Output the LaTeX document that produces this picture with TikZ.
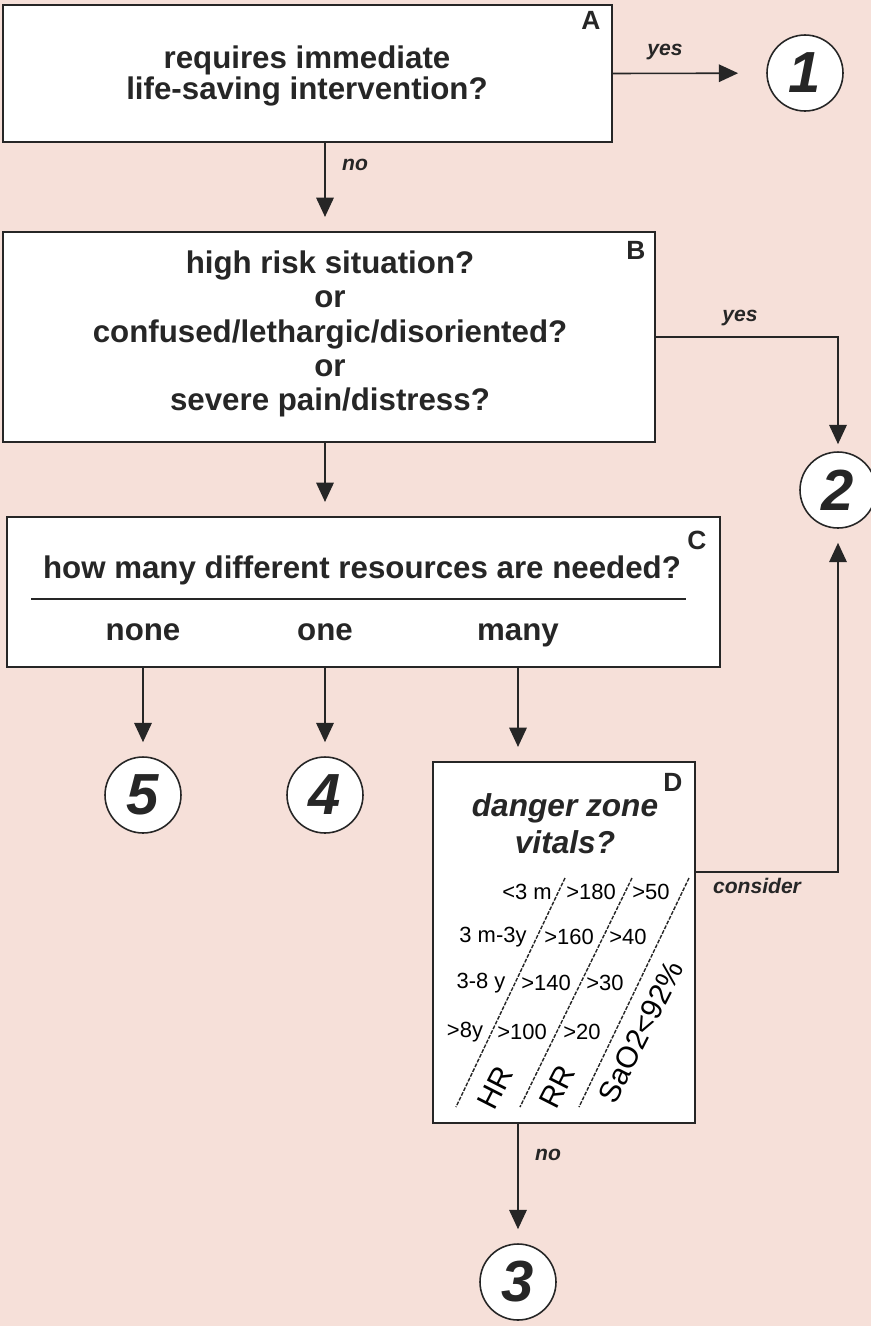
\documentclass[tikz,border=0pt]{standalone}
\usepackage{fontspec}
\setmainfont{Liberation Sans}
\usetikzlibrary{arrows.meta}
\definecolor{bgpink}{RGB}{246,224,217}
\definecolor{inkgray}{RGB}{38,38,38}

\begin{document}
\begin{tikzpicture}[x=0.02cm,y=-0.02cm,
        box/.style={draw=inkgray,line width=1.2pt,fill=white,inner sep=0pt},
        qtext/.style={font=\fontsize{17.8}{19.5}\selectfont\bfseries,align=center,text=inkgray},
        corner/.style={font=\fontsize{15}{15}\selectfont\bfseries,text=inkgray},
        endcirc/.style={circle,draw=inkgray,line width=0.9pt,fill=white,minimum size=1.52cm,inner sep=0pt,
            font=\fontsize{33}{33}\selectfont\bfseries\itshape,text=inkgray},
        arr/.style={-{Triangle[width=10pt,length=11pt]},draw=inkgray,line width=0.9pt,shorten >=8pt},
        lbl/.style={font=\fontsize{12}{12}\selectfont\bfseries\itshape,text=inkgray},
        vit/.style={font=\fontsize{12.5}{12.5}\selectfont,text=black},
        axis/.style={font=\fontsize{17}{17}\selectfont,text=black,rotate=63},
        diag/.style={draw=inkgray,dash pattern=on 2.2pt off 0.8pt,line width=0.8pt}]
        % Background
        \fill[bgpink] (0,0) rectangle (871,1326);
        \useasboundingbox (0,0) rectangle (871,1326);

        % Boxes
        \node[box,minimum width=12.18cm,minimum height=2.74cm] (A) at (307.5,73.5) {};
        \node[qtext,font=\fontsize{17.8}{16.5}\selectfont\bfseries] at (307,76) {requires immediate\\life-saving intervention?};
        \node[box,minimum width=13.04cm,minimum height=4.2cm] (B) at (329,337) {};
        \node[qtext] at (330,334) {high risk situation?\\or\\confused/lethargic/disoriented?\\or\\severe pain/distress?};
        \node[box,minimum width=14.26cm,minimum height=3.0cm] (C) at (363.5,592) {};
        \node[qtext] (Ctitle) at (362,570) {how many different resources are needed?};
        \draw[inkgray,line width=1pt] (31,599) -- (686,599);
        \node[qtext,anchor=base] (none) at (143,640) {none};
        \node[qtext,anchor=base] (one) at (325,640) {one};
        \node[qtext,anchor=base] (many) at (518,640) {many};
        \node[box,minimum width=5.24cm,minimum height=7.22cm] (D) at (564,942.5) {};
        \node[qtext,font=\fontsize{18}{21}\selectfont\bfseries\itshape] at (565,824) {danger zone\\vitals?};

        % Corner letters
        \node[corner] at (591,20) {A};
        \node[corner] at (636,250) {B};
        \node[corner] at (697,540) {C};
        \node[corner] at (673,782) {D};

        % End circles
        \node[endcirc] (c1) at (805,73) {1};
        \node[endcirc] (c2) at (838,490) {2};
        \node[endcirc] (c3) at (518,1282) {3};
        \node[endcirc] (c4) at (325,795) {4};
        \node[endcirc] (c5) at (143,795) {5};

        % Vitals table
        \coordinate (P) at (565,878);
        \coordinate (Q) at (456,1107);
        \coordinate (R) at (632,878);
        \coordinate (S) at (520,1107);
        \coordinate (T) at (689,878);
        \coordinate (U) at (579,1107);
        \draw[diag] (P) -- (Q);
        \draw[diag] (R) -- (S);
        \draw[diag] (T) -- (U);
        \node[vit] at (527,892) {<3 m};
        \node[vit] at (591,892) {>180};
        \node[vit] at (651,892) {>50};
        \node[vit] at (493,937) {3 m-3y};
        \node[vit] at (569,937) {>160};
        \node[vit] at (628,937) {>40};
        \node[vit] at (481,983) {3-8 y};
        \node[vit] at (546,983) {>140};
        \node[vit] at (605,983) {>30};
        \node[vit] at (465,1032) {>8y};
        \node[vit] at (522,1032) {>100};
        \node[vit] at (582,1032) {>20};
        \node[axis] at (495,1088) {HR};
        \node[axis] at (557,1087) {RR};
        \node[axis] at (641,1032) {SaO2<92\%};

        % Connectors
        \coordinate (dcon) at (695,872);
        \draw[arr,shorten >=16pt] (A.east) -- (c1);
        \node[lbl] at (665,52) {yes};
        \draw[arr] (A.south -| one) -- (B.north -| one);
        \node[lbl] at (355,165) {no};
        \draw[arr,shorten >=4pt] (B.east) -| (c2);
        \node[lbl] at (740,318) {yes};
        \draw[arr] (B.south -| one) -- (C.north -| one);
        \draw[arr] (C.south -| none) -- (c5);
        \draw[arr] (C.south -| one) -- (c4);
        \draw[arr] (C.south -| many) -- (D.north -| many);
        \draw[arr] (dcon) -| (c2);
        \node[lbl] at (757,886) {consider};
        \draw[arr] (D.south -| c3) -- (c3);
        \node[lbl] at (548,1155) {no};
\end{tikzpicture}
\end{document}
